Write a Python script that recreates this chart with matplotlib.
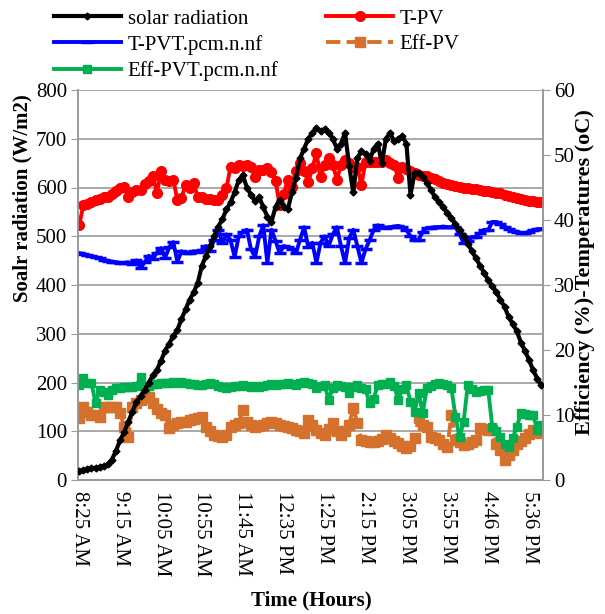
import numpy as np
import matplotlib.pyplot as plt

plt.rcParams['font.family'] = ['Liberation Serif', 'DejaVu Serif']
plt.rcParams['font.size'] = 15

# minutes after 8:25 AM, one reading every 5 minutes
minutes = np.arange(0, 570, 5)

tick_minutes = [0, 50, 100, 150, 200, 250, 300, 350, 400, 450, 500, 550]
tick_labels = ['8:25 AM', '9:15 AM', '10:05 AM', '10:55 AM', '11:45 AM', '12:35 PM',
               '1:25 PM', '2:15 PM', '3:05 PM', '3:55 PM', '4:46 PM', '5:36 PM']

# solar radiation (W/m2), left axis
rad = [18, 20, 22, 24, 25, 27, 29, 32, 42, 60,
       82, 98, 120, 140, 160, 172, 185, 200, 215, 226,
       245, 265, 280, 295, 308, 330, 350, 370, 385, 405,
       440, 460, 480, 500, 520, 535, 555, 570, 590, 615,
       625, 600, 585, 572, 580, 560, 540, 530, 560, 575,
       560, 555, 590, 620, 660, 680, 700, 712, 722, 715,
       720, 712, 700, 680, 690, 712, 645, 590, 660, 675,
       668, 655, 680, 690, 650, 700, 712, 695, 700, 705,
       690, 585, 630, 630, 622, 610, 595, 580, 570, 560,
       548, 538, 525, 512, 500, 485, 470, 455, 440, 425,
       410, 398, 385, 370, 355, 335, 320, 305, 282, 265,
       246, 225, 208, 195]

# temperatures (oC), right axis
t_pv = [39.2, 42.3, 42.5, 42.8, 43.1, 43.3, 43.5, 43.5, 44.0, 44.5,
        45.0, 45.1, 43.5, 44.3, 44.6, 44.6, 45.5, 46.0, 46.8, 44.2,
        47.5, 46.2, 46.0, 46.2, 43.1, 43.4, 45.4, 45.0, 45.7, 43.5,
        43.5, 43.3, 43.3, 43.1, 43.1, 43.8, 44.9, 48.2, 48.0, 48.5,
        48.3, 48.5, 48.2, 46.6, 47.7, 47.7, 48.0, 47.4, 46.0, 42.3,
        44.0, 46.2, 45.1, 47.5, 48.8, 47.5, 45.8, 48.0, 50.3, 46.6,
        48.5, 49.5, 48.5, 46.2, 48.5, 49.2, 48.8, 48.2, 48.2, 45.4,
        49.0, 48.9, 48.9, 48.9, 49.0, 49.2, 48.8, 48.5, 46.5, 48.2,
        47.8, 47.5, 47.3, 47.0, 46.8, 46.7, 46.5, 46.3, 46.0, 45.7,
        45.5, 45.4, 45.3, 45.1, 45.0, 44.9, 44.8, 44.7, 44.6, 44.5,
        44.4, 44.3, 44.2, 44.1, 43.9, 43.7, 43.5, 43.4, 43.3, 43.1,
        43.0, 42.9, 42.8, 42.8]

t_pvt = [34.9, 34.8, 34.6, 34.4, 34.3, 34.1, 33.9, 33.7, 33.6, 33.5,
         33.4, 33.4, 33.5, 33.2, 33.8, 32.6, 33.5, 34.5, 34.0, 35.0,
         35.7, 34.2, 35.8, 36.6, 33.6, 35.2, 34.9, 35.0, 35.2, 35.1,
         35.4, 36.0, 35.2, 37.0, 38.5, 36.5, 37.8, 36.9, 34.3, 37.5,
         38.2, 38.5, 35.5, 34.3, 37.5, 39.2, 33.4, 38.5, 36.8, 34.9,
         36.0, 35.8, 35.5, 34.9, 37.0, 38.9, 35.8, 36.5, 33.4, 36.5,
         37.5, 36.0, 37.8, 38.9, 36.0, 33.4, 37.2, 38.5, 36.0, 33.4,
         35.5, 36.9, 38.5, 39.2, 38.9, 38.8, 38.9, 39.0, 39.1, 38.9,
         38.5, 37.5, 36.9, 37.0, 38.2, 38.8, 38.8, 38.9, 38.9, 39.0,
         38.9, 38.9, 38.9, 37.8, 36.5, 36.8, 37.4, 37.4, 38.0, 38.5,
         38.5, 39.7, 39.7, 39.4, 39.0, 38.6, 38.3, 38.2, 38.0, 38.0,
         38.2, 38.4, 38.6, 38.6]

# efficiencies (%), right axis
eff_pv = [9.5, 11.2, 10.5, 10.0, 10.0, 9.7, 11.2, 11.2, 11.2, 11.2,
          10.3, 8.2, 6.6, 11.2, 11.8, 12.3, 12.6, 12.8, 11.8, 11.0,
          10.3, 10.0, 8.0, 8.5, 8.8, 8.9, 9.0, 9.2, 9.4, 9.6,
          9.7, 8.2, 7.5, 6.9, 6.7, 6.6, 7.0, 8.2, 8.5, 8.8,
          10.8, 9.0, 8.5, 8.2, 8.3, 8.5, 8.7, 8.9, 8.7, 8.5,
          8.3, 8.2, 8.0, 7.7, 7.5, 7.3, 9.2, 8.5, 7.7, 7.3,
          6.9, 7.8, 8.8, 7.5, 6.9, 7.5, 8.5, 11.1, 8.8, 6.2,
          6.0, 5.8, 5.8, 6.0, 6.3, 6.9, 6.5, 6.0, 5.7, 5.3,
          4.9, 5.2, 6.5, 9.5, 8.5, 8.2, 6.6, 6.4, 6.2, 5.6,
          5.1, 10.0, 6.2, 5.8, 5.4, 5.6, 5.8, 6.2, 8.0, 7.9,
          7.7, 7.7, 5.5, 4.6, 3.1, 3.8, 4.6, 5.5, 6.0, 6.5,
          7.1, 7.7, 7.4, 7.2]

eff_pvt = [14.6, 15.7, 15.0, 14.9, 11.8, 13.8, 13.5, 13.1, 13.8, 14.2,
           14.2, 14.3, 14.3, 14.3, 14.5, 15.8, 14.2, 14.5, 14.7, 14.8,
           14.9, 15.0, 15.0, 15.1, 15.0, 15.1, 15.0, 14.8, 14.7, 14.6,
           14.6, 14.8, 14.9, 14.7, 14.5, 14.3, 14.2, 14.3, 14.4, 14.5,
           14.6, 14.4, 14.3, 14.5, 14.3, 14.4, 14.6, 14.7, 14.6, 14.8,
           14.7, 14.9, 14.8, 14.6, 14.9, 15.1, 14.9, 14.7, 14.2, 14.5,
           14.6, 12.3, 14.2, 14.6, 14.5, 14.3, 13.4, 14.3, 14.6, 14.2,
           14.0, 11.8, 12.5, 14.6, 14.7, 14.8, 15.1, 14.5, 12.3, 14.0,
           14.6, 12.0, 10.5, 13.4, 10.3, 14.2, 14.5, 14.7, 14.9, 14.8,
           14.6, 14.2, 9.7, 6.6, 9.0, 14.6, 14.0, 13.5, 13.7, 13.8,
           13.8, 8.2, 7.5, 6.6, 5.5, 5.1, 6.5, 8.2, 10.3, 10.2,
           10.0, 10.0, 7.7, 8.5]

GRAY = '#9a9a9a'
ORANGE = '#D6712D'
GREEN = '#00B050'

fig = plt.figure(figsize=(6.05, 6.14), dpi=100)
ax = fig.add_axes([78 / 605, 134 / 614, 465 / 605, 390 / 614])
ax2 = ax.twinx()   # temperatures / efficiency
ax3 = ax.twinx()   # radiation drawn on top, same scale as ax

ax.set_ylim(0, 800)
ax.set_yticks(range(0, 801, 100))
ax.set_xlim(-1.5, 567)
ax.set_xticks(tick_minutes)
ax.set_xticklabels(tick_labels, rotation=-90, va='top', ha='center')
ax.yaxis.grid(True, color=GRAY, lw=1.2)
ax.set_axisbelow(True)
ax.tick_params(axis='x', length=0, pad=8)
ax.tick_params(axis='y', length=5, color=GRAY, pad=3)

ax2.set_ylim(0, 60)
ax2.set_yticks(range(0, 61, 10))
ax2.tick_params(axis='y', length=5, color=GRAY, pad=3)

ax3.set_ylim(0, 800)
ax3.set_yticks([])

for a in (ax, ax2):
    for s in a.spines.values():
        s.set_color(GRAY)
        s.set_linewidth(1.2)
    a.spines['top'].set_visible(False)
for s in ax3.spines.values():
    s.set_visible(False)

l_pvt, = ax2.plot(minutes, t_pvt, color='#0000FF', lw=2.8, marker='_', ms=9, mew=2.5,
                  label='T-PVT.pcm.n.nf')
l_pv, = ax2.plot(minutes, t_pv, color='#FF0000', lw=2.8, marker='o', ms=7,
                 label='T-PV')
l_effpv, = ax2.plot(minutes, eff_pv, color=ORANGE, lw=2.8, ls='--', marker='s', ms=6.5,
                    label='Eff-PV')
l_effpvt, = ax2.plot(minutes, eff_pvt, color=GREEN, lw=2.8, marker='s', ms=6,
                     label='Eff-PVT.pcm.n.nf')
l_rad, = ax3.plot(minutes, rad, color='black', lw=3, marker='D', ms=3.5,
                  label='solar radiation')

handles = [l_rad, l_pvt, l_effpvt, l_pv, l_effpv]
fig.legend(handles, [h.get_label() for h in handles], ncol=2, loc='upper left',
           bbox_to_anchor=(54 / 605, 1 - 9 / 614), frameon=False,
           handlelength=3.2, handletextpad=0.33, columnspacing=2.3,
           labelspacing=0.3, borderpad=0, borderaxespad=0, fontsize=15)

fig.text(311 / 605, 1 - 600 / 614, 'Time (Hours)', ha='center', va='center',
         fontweight='bold', fontsize=15)
fig.text(22 / 605, 1 - 198 / 614, 'Soalr radiation (W/m2)', ha='center', va='center',
         rotation=90, fontweight='bold', fontsize=15)
fig.text(585 / 605, 1 - 272 / 614, 'Efficiency (%)-Temperatures (oC)', ha='center',
         va='center', rotation=90, fontweight='bold', fontsize=16)

fig.savefig('out.png', dpi=100)
